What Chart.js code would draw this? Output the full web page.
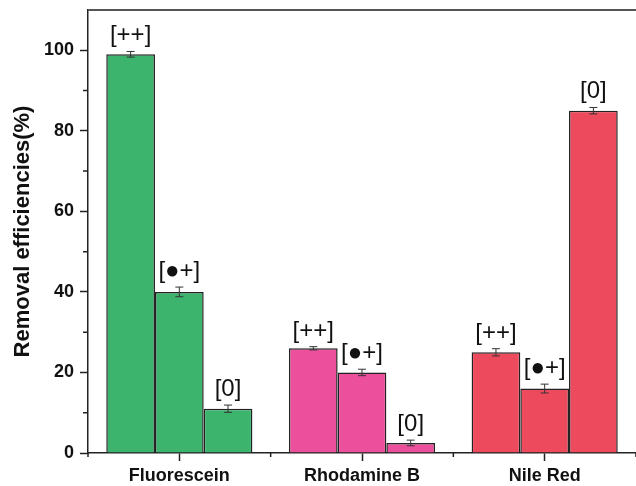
<!DOCTYPE html>
<html>
<head>
<meta charset="utf-8">
<script src="https://cdn.jsdelivr.net/npm/chart.js@4"></script>
<style>
  html, body { margin: 0; padding: 0; background: #fff; }
  canvas { display: block; }
</style>
</head>
<body>
<canvas id="chart" width="636" height="486"></canvas>
<script>
// data
const categories = ["Fluorescein", "Rhodamine B", "Nile Red"];
const seriesLabels = ["[++]", "[\u25CF+]", "[0]"];
const valuesPlusPlus = [99, 26, 25];
const valuesDotPlus = [40, 20, 16];
const valuesZero = [11, 2.5, 85];
const errPlusPlus = [0.7, 0.4, 0.9];
const errDotPlus = [1.2, 0.8, 1.1];
const errZero = [0.9, 0.7, 0.8];
const groupColors = ["#3cb46e", "#ec4f9c", "#ee4a5d"];
const yMin = 0, yMax = 110, yStep = 10;

const FONT = "'Liberation Sans', Arial, sans-serif";

const seriesValues = [valuesPlusPlus, valuesDotPlus, valuesZero];
const seriesErrors = [errPlusPlus, errDotPlus, errZero];

// error bars + bracket labels over each bar
const errorBarPlugin = {
  id: "errorBars",
  afterDatasetsDraw(chart) {
    const ctx = chart.ctx;
    const y = chart.scales.y;
    ctx.save();
    chart.data.datasets.forEach((ds, di) => {
      const meta = chart.getDatasetMeta(di);
      meta.data.forEach((bar, i) => {
        const v = ds.data[i];
        const e = ds.errors[i];
        const yTop = y.getPixelForValue(v + e);
        const yBot = y.getPixelForValue(v - e);
        ctx.strokeStyle = "#333";
        ctx.lineWidth = 1;
        ctx.beginPath();
        ctx.moveTo(bar.x, yTop);
        ctx.lineTo(bar.x, yBot);
        ctx.moveTo(bar.x - 4, yTop);
        ctx.lineTo(bar.x + 4, yTop);
        ctx.moveTo(bar.x - 4, yBot);
        ctx.lineTo(bar.x + 4, yBot);
        ctx.stroke();

        ctx.fillStyle = "#111";
        ctx.font = "24px " + FONT;
        ctx.textAlign = "center";
        ctx.textBaseline = "alphabetic";
        ctx.fillText(ds.label, bar.x, yTop - 9);
      });
    });
    ctx.restore();
  },
};

// frame top line, minor ticks on both axes
const framePlugin = {
  id: "frame",
  afterDraw(chart) {
    const ctx = chart.ctx;
    const { left, right, top, bottom } = chart.chartArea;
    const x = chart.scales.x;
    const y = chart.scales.y;
    ctx.save();
    ctx.strokeStyle = "#555";
    ctx.lineWidth = 2;
    ctx.beginPath();
    ctx.moveTo(left, top);
    ctx.lineTo(right, top);
    ctx.stroke();

    ctx.strokeStyle = "#222";
    ctx.lineWidth = 1.5;
    ctx.beginPath();
    // minor y ticks
    for (let v = yMin + yStep; v < yMax; v += 2 * yStep) {
      const py = y.getPixelForValue(v);
      ctx.moveTo(left, py);
      ctx.lineTo(left - 5, py);
    }
    // minor x ticks between categories
    for (let i = 0; i <= categories.length; i++) {
      const px = x.getPixelForValue(i - 0.5);
      ctx.moveTo(px, bottom);
      ctx.lineTo(px, bottom + 4);
    }
    ctx.stroke();
    ctx.restore();
  },
};

const datasets = seriesLabels.map((lab, k) => ({
  label: lab,
  data: seriesValues[k],
  errors: seriesErrors[k],
  backgroundColor: groupColors,
  borderColor: "#222",
  borderWidth: 1.5,
  categoryPercentage: 0.8,
  barPercentage: 1.0,
}));

new Chart(document.getElementById("chart"), {
  type: "bar",
  data: { labels: categories, datasets },
  options: {
    responsive: false,
    animation: false,
    layout: { padding: { top: 10, right: 0, left: 0, bottom: 0 } },
    plugins: { legend: { display: false }, tooltip: { enabled: false } },
    scales: {
      x: {
        afterFit: (s) => { s.height = 33; s.paddingLeft = 0; s.paddingRight = 0; },
        grid: {
          offset: false,
          drawOnChartArea: false,
          tickLength: 8,
          tickColor: "#222",
          tickWidth: 1.5,
        },
        border: { color: "#222", width: 1.5 },
        ticks: {
          color: "#111",
          padding: 4,
          font: { family: FONT, size: 18, weight: "bold" },
        },
      },
      y: {
        min: yMin,
        max: yMax,
        afterFit: (s) => { s.width = 88; s.paddingTop = 0; s.paddingBottom = 0; },
        grid: {
          drawOnChartArea: false,
          tickLength: 8,
          tickWidth: 1.5,
          tickColor: (c) => (c.tick && c.tick.value % 20 === 0 ? "#222" : "rgba(0,0,0,0)"),
        },
        border: { color: "#222", width: 1.5 },
        ticks: {
          stepSize: yStep,
          color: "#111",
          padding: 6,
          font: { family: FONT, size: 18, weight: "bold" },
          callback: (v) => (v % 20 === 0 && v < yMax ? v : ""),
        },
        title: {
          display: true,
          text: "Removal efficiencies(%)",
          color: "#111",
          font: { family: FONT, size: 22, weight: "bold" },
          padding: { top: 10, bottom: 0 },
        },
      },
    },
  },
  plugins: [errorBarPlugin, framePlugin],
});
</script>
</body>
</html>
